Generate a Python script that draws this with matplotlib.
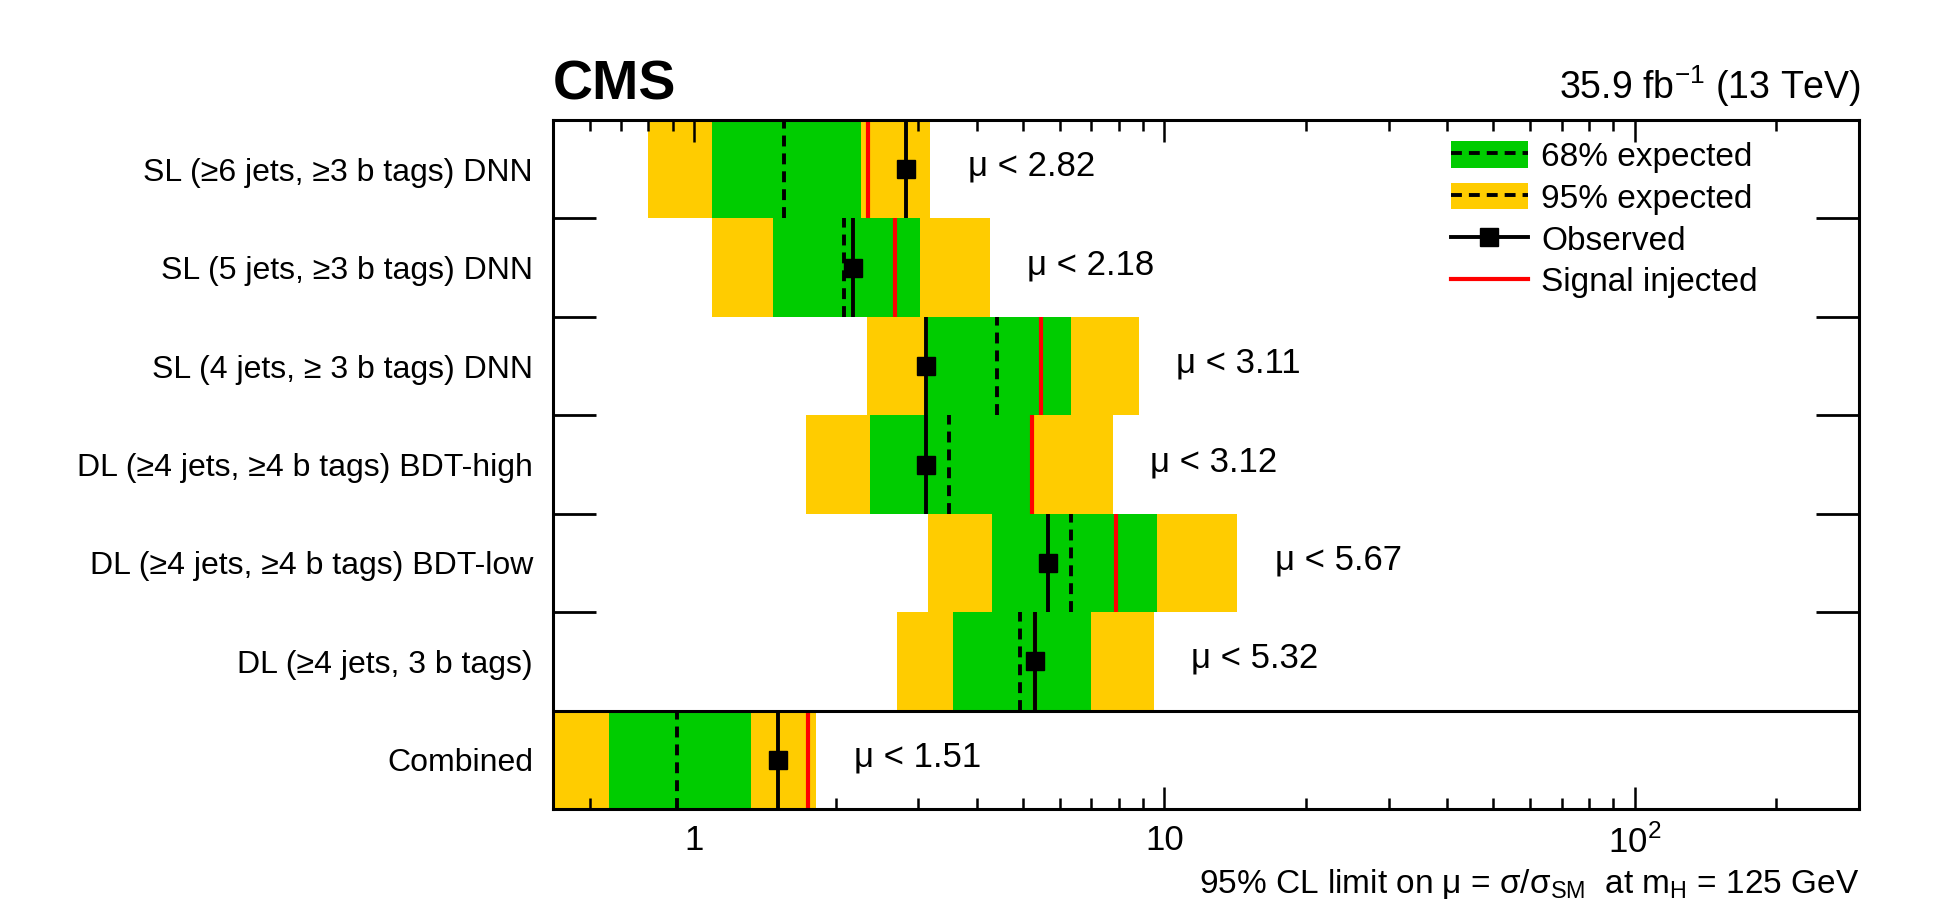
import matplotlib
matplotlib.use("Agg")
import matplotlib.pyplot as plt
from matplotlib.patches import Patch
from matplotlib.lines import Line2D
from matplotlib.ticker import FixedLocator, NullFormatter

labels = [
    "SL (≥6 jets, ≥3 b tags) DNN",
    "SL (5 jets, ≥3 b tags) DNN",
    "SL (4 jets, ≥ 3 b tags) DNN",
    "DL (≥4 jets, ≥4 b tags) BDT-high",
    "DL (≥4 jets, ≥4 b tags) BDT-low",
    "DL (≥4 jets, 3 b tags)",
    "Combined",
]
lo95 = [0.80, 1.09, 2.33, 1.73, 3.15, 2.70, 0.45]
lo68 = [1.09, 1.47, 3.14, 2.37, 4.31, 3.55, 0.66]
expected = [1.55, 2.08, 4.40, 3.48, 6.34, 4.94, 0.92]
hi68 = [2.26, 3.03, 6.32, 5.27, 9.63, 6.97, 1.32]
hi95 = [3.18, 4.26, 8.83, 7.77, 14.3, 9.51, 1.82]
observed = [2.82, 2.18, 3.11, 3.12, 5.67, 5.32, 1.51]
injected = [2.34, 2.67, 5.47, 5.22, 7.88, 5.30, 1.75]

narrow = ["Liberation Sans Narrow", "Liberation Sans", "DejaVu Sans"]
regular = ["Liberation Sans", "DejaVu Sans"]
plt.rcParams["font.family"] = narrow

yellow = "#ffcc00"
green = "#00cc00"
dashes = (0, (2.8, 1.8))

fig = plt.figure(figsize=(19.36, 9.0), dpi=100)
ax = fig.add_axes([552.5 / 1936, 1 - 809 / 900, (1859 - 552.5) / 1936, (809 - 120) / 900])

n = len(labels)
ypos = [n - 1 - i for i in range(n)]

for i, y in enumerate(ypos):
    ax.barh(y, hi95[i] - lo95[i], left=lo95[i], height=1.0, color=yellow, lw=0, zorder=1)
    ax.barh(y, hi68[i] - lo68[i], left=lo68[i], height=1.0, color=green, lw=0, zorder=2)
    ax.vlines(expected[i], y - 0.5, y + 0.5, colors="black", lw=2.8,
              linestyles=dashes, zorder=3)
    ax.vlines(injected[i], y - 0.5, y + 0.5, colors="#ff0000", lw=3.0, zorder=3)
    ax.vlines(observed[i], y - 0.5, y + 0.5, colors="black", lw=2.8, zorder=4)
    ax.plot(observed[i], y, "s", color="black", ms=13.5, zorder=5)
    ax.text(hi95[i] * 1.2, y + 0.03, f"μ < {observed[i]:.2f}", fontsize=25,
            ha="left", va="center")

# line separating the combined result
ax.axhline(0.5, color="black", lw=2.2, zorder=6)

ax.set_xscale("log")
ax.set_xlim(0.5, 300)
ax.set_ylim(-0.5, n - 0.5)

ax.xaxis.set_major_locator(FixedLocator([1, 10, 100]))
ax.set_xticklabels(["1", "10", r"10$^{\mathregular{2}}$"], fontsize=25)
minors = [0.6, 0.7, 0.8, 0.9] + [k for k in range(2, 10)] + [10 * k for k in range(2, 10)] + [200]
ax.xaxis.set_minor_locator(FixedLocator(minors))
ax.xaxis.set_minor_formatter(NullFormatter())
ax.tick_params(axis="x", which="major", direction="in", length=16, width=1.8,
               top=True, pad=11)
ax.tick_params(axis="x", which="minor", direction="in", length=8, width=1.8, top=True)

ax.set_yticks(ypos)
ax.set_yticklabels(labels, fontsize=23)
ax.yaxis.set_minor_locator(FixedLocator([1.5, 2.5, 3.5, 4.5, 5.5]))
ax.tick_params(axis="y", which="major", length=0, pad=14)
ax.tick_params(axis="y", which="minor", direction="in", length=31, width=2,
               left=True, right=True)

for s in ax.spines.values():
    s.set_linewidth(2.2)
    s.set_zorder(10)

fig.text(552.5 / 1936, 1 - 99 / 900, "CMS", fontsize=40, fontweight="bold",
         family=regular, ha="left", va="baseline")
fig.text(1861 / 1936, 1 - 99 / 900, r"35.9 fb$^{\mathregular{-1}}$ (13 TeV)",
         fontsize=27, family=regular, ha="right", va="baseline")
fig.text(1859 / 1936, 1 - 893 / 900,
         r"95% CL limit on μ = σ/σ$_{\mathregular{SM}}$  at m$_{\mathregular{H}}$ = 125 GeV",
         fontsize=24, ha="right", va="baseline")

handles = [
    (Patch(facecolor=green, lw=0), Line2D([], [], color="black", lw=2.8, ls=dashes)),
    (Patch(facecolor=yellow, lw=0), Line2D([], [], color="black", lw=2.8, ls=dashes)),
    Line2D([], [], color="black", lw=2.8, marker="s", ms=13.5),
    Line2D([], [], color="#ff0000", lw=3.0),
]
names = ["68% expected", "95% expected", "Observed", "Signal injected"]
fig.legend(handles, names, loc="upper left", bbox_to_anchor=(1451 / 1936, 1 - 141 / 900),
           frameon=False, prop={"family": regular, "size": 24}, borderpad=0,
           borderaxespad=0, handlelength=2.3, handleheight=0.85, labelspacing=0.3,
           handletextpad=0.4)

fig.savefig("out.png", dpi=100)
